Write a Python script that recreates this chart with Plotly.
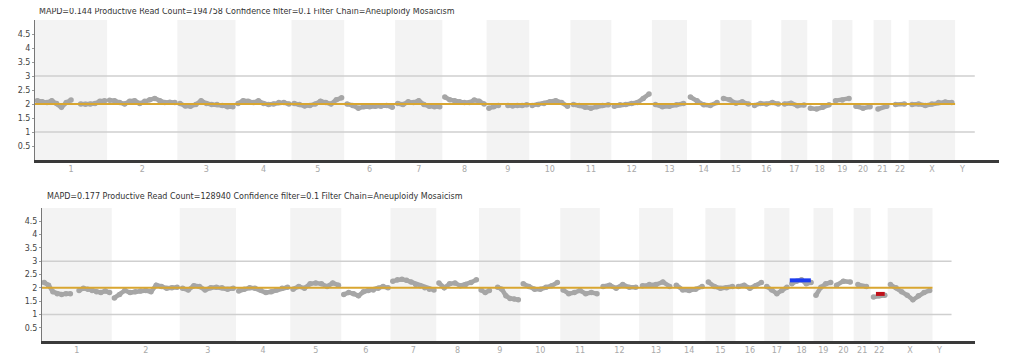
import plotly.graph_objects as go

# ---------------- data ----------------
chrom_names = ["1", "2", "3", "4", "5", "6", "7", "8", "9", "10", "11", "12",
               "13", "14", "15", "16", "17", "18", "19", "20", "21", "22", "X", "Y"]
chrom_lengths = [238, 232, 192, 185, 174, 168, 156, 146, 141, 136, 135, 134,
                 116, 110, 103, 98, 86, 82, 67, 70, 58, 58, 153, 48]

top_title = "MAPD=0.144 Productive Read Count=194758 Confidence filter=0.1 Filter Chain=Aneuploidy Mosaicism"
bottom_title = "MAPD=0.177 Productive Read Count=128940 Confidence filter=0.1 Filter Chain=Aneuploidy Mosaicism"

y_tick_values = [0.5, 1, 1.5, 2, 2.5, 3, 3.5, 4, 4.5]
y_tick_labels = ["0.5", "1", "1.5", "2", "2.5", "3", "3.5", "4", "4.5"]
reference_levels = [1, 3]
normal_level = 2
axis_max = 3183
grid_end = 3103

top_copy_number = [
    [2.12, 2.08, 2.05, 2.12, 2.02, 1.88, 2.05, 2.14, None, 2.0, 1.99, 2.0, 2.02, 2.10, 2.12],
    [2.13, 2.12, 2.05, 2.0, 2.1, 2.12, 2.02, 2.1, 2.15, 2.2, 2.12, 2.05, 2.06, 2.05],
    [2.02, 1.93, 1.92, 1.98, 2.12, 2.02, 1.98, 1.98, 1.95, 1.9, 1.9],
    [2.02, 2.12, 2.1, 2.05, 2.12, 2.02, 1.98, 2.0, 2.05, 2.05, 2.0],
    [2.02, 1.98, 1.93, 1.95, 2.0, 2.1, 2.05, 2.0, 2.15, 2.22],
    [2.0, 1.95, 1.85, 1.9, 1.9, 1.92, 1.92, 1.95, 1.88],
    [2.02, 1.98, 2.08, 2.05, 2.12, 1.98, 1.92, 1.9, 1.9],
    [2.25, 2.15, 2.12, 2.08, 2.05, 2.05, 2.14, 2.1, 2.0],
    [1.85, 1.9, 1.95, None, 1.95, 1.93, 1.95, 1.95, 1.97],
    [1.95, 1.98, 2.02, 2.08, 2.12, 2.05, 1.92],
    [1.98, 1.95, 1.88, 1.85, 1.9, 1.95, 1.97],
    [1.92, 1.97, 1.98, 2.02, 2.05, 2.2, 2.36],
    [1.98, 1.9, 1.92, 1.97, 2.02],
    [2.25, 2.12, 1.97, 1.95, 2.05],
    [2.2, 2.15, 2.03, 2.08, 2.0],
    [1.95, 2.02, 2.0, 2.05, 2.0],
    [2.0, 2.03, 1.94, 1.96],
    [1.85, 1.82, 1.88, 1.97],
    [2.12, 2.14, 2.2],
    [1.92, 1.85, 1.9],
    [1.82, 1.92],
    [1.98, 2.0],
    [1.98, 2.0, 1.95, 2.0, 2.05, 2.07, 2.05],
    [],
]

bottom_copy_number = [
    [2.2, 2.1, 1.85, 1.78, 1.75, 1.78, 1.78, None, 1.9, 1.98, 1.95, 1.9, 1.85, 1.82, 1.88, 1.82],
    [1.62, 1.75, 1.9, 1.82, 1.85, 1.88, 1.9, 1.85, 2.1, 2.05, 1.98, 2.0, 2.02],
    [1.98, 1.92, 2.08, 2.05, 1.92, 2.0, 2.02, 2.0, 1.95, 1.98],
    [1.88, 1.95, 2.0, 1.98, 1.92, 1.82, 1.85, 1.92, 1.98, 2.02],
    [1.95, 2.05, 1.98, 2.15, 2.18, 2.15, 2.05, 2.18, 2.1],
    [1.75, 1.82, 1.78, 1.7, 1.85, 1.9, 1.92, 1.98, 2.05, 2.0],
    [2.25, 2.3, 2.32, 2.28, 2.22, 2.12, 2.08, 2.0, 1.95, 1.92],
    [2.18, 2.0, 2.15, 2.18, 2.08, 2.12, 2.2, 2.3],
    [1.92, 1.82, 1.9, None, 2.02, 1.95, 1.7, 1.6, 1.58, 1.55],
    [2.15, 2.05, 1.95, 1.95, 2.02, 2.08, 2.2],
    [1.92, 1.78, 1.82, 1.9, 1.78, 1.82, 1.78],
    [2.05, 2.1, 1.98, 2.12, 2.02, 2.02],
    [2.08, 2.12, 2.12, 2.22, 2.05],
    [2.1, 1.92, 1.9, 1.95, 2.05],
    [2.22, 2.05, 1.98, 2.0, 2.05],
    [2.05, 2.1, 1.98, 2.08, 2.2],
    [2.05, 1.92, 1.78, 1.9, 2.02],
    [2.15, 2.25, 2.3, 2.15, 2.2],
    [1.72, 2.02, 2.15, 2.2],
    [2.1, 2.25, 2.22],
    [2.12, 2.05],
    [1.65, 1.7, 1.72],
    [2.12, 2.0, 1.85, 1.72, 1.55, 1.7, 1.82, 1.9],
    [],
]

# called segments on bottom sample: (start, end, copy number, colour)
segment_starts = [2551, 2845]
segment_ends = [2623, 2875]
segment_values = [2.28, 1.77]
segment_colors = ["#1c3cf0", "#c0101a"]

# ---------------- geometry ----------------
PAGE_OFF = 8            # default page margin of the html body
W, H = 1024 - PAGE_OFF, 360 - PAGE_OFF


def fx(px):
    return (px - PAGE_OFF) / W


def fy(py):
    return 1 - (py - PAGE_OFF) / H


panels = [
    dict(xd=(35, 999), yd=(20, 160), values=top_copy_number, title=top_title, tx=37, ty=12, xa="x", ya="y"),
    dict(xd=(42, 975), yd=(208, 341), values=bottom_copy_number, title=bottom_title, tx=45, ty=196, xa="x2", ya="y2"),
]

starts = []
acc = 0
for L in chrom_lengths:
    starts.append(acc)
    acc += L
centers = [s + L / 2 for s, L in zip(starts, chrom_lengths)]
x_end_normal = starts[22] + chrom_lengths[22]

fig = go.Figure()
shapes = []
annotations = []

for k, p in enumerate(panels):
    xs, ys = [], []
    for s, L, vals in zip(starts, chrom_lengths, p["values"]):
        n = len(vals)
        for j, v in enumerate(vals):
            xs.append(s + (j + 0.5) / n * L)
            ys.append(v)
        xs.append(None)
        ys.append(None)
    fig.add_trace(go.Scatter(
        x=xs, y=ys, xaxis=p["xa"], yaxis=p["ya"], mode="lines+markers",
        line=dict(color="#a6a6a6", width=4.5), marker=dict(color="#a6a6a6", size=5.5),
        connectgaps=False, hoverinfo="skip"))

    xr = p["xa"]
    yr = p["ya"]
    for i, (s, L) in enumerate(zip(starts, chrom_lengths)):
        if i % 2 == 0 and i < 23:
            shapes.append(dict(type="rect", xref=xr, yref=yr, x0=s, x1=s + L, y0=0, y1=5,
                               fillcolor="#f3f3f3", line=dict(width=0), layer="below"))
    for lv in reference_levels:
        shapes.append(dict(type="line", xref=xr, yref=yr, x0=0, x1=grid_end, y0=lv, y1=lv,
                           line=dict(color="#cfcfcf", width=1.5), layer="below"))
    shapes.append(dict(type="line", xref=xr, yref=yr, x0=0, x1=x_end_normal, y0=normal_level, y1=normal_level,
                       line=dict(color="#d9a630", width=2), layer="above"))

    annotations.append(dict(text=p["title"], xref="paper", yref="paper", x=fx(p["tx"]), y=fy(p["ty"]),
                            xanchor="left", yanchor="middle", showarrow=False,
                            font=dict(family="DejaVu Sans", size=8, color="#333333")))

    suffix = "" if k == 0 else "2"
    fig.layout["xaxis" + suffix] = dict(
        domain=[fx(p["xd"][0]), fx(p["xd"][1])], range=[0, axis_max], anchor=p["ya"],
        showline=True, linecolor="#3a3a3a", linewidth=2.5, showgrid=False, zeroline=False,
        tickvals=centers, ticktext=chrom_names, ticks="", fixedrange=True,
        tickfont=dict(family="DejaVu Sans", size=8, color="#a8a8a8"))
    fig.layout["yaxis" + suffix] = dict(
        domain=[fy(p["yd"][1]), fy(p["yd"][0])], range=[0, 5], anchor=p["xa"],
        showline=True, linecolor="#777777", linewidth=1, showgrid=False, zeroline=False,
        tickvals=y_tick_values, ticktext=y_tick_labels, ticks="outside", ticklen=2,
        tickcolor="#999999", fixedrange=True,
        tickfont=dict(family="DejaVu Sans", size=8, color="#444444"))

for s0, s1, v, c in zip(segment_starts, segment_ends, segment_values, segment_colors):
    fig.add_trace(go.Scatter(x=[s0, s1], y=[v, v], xaxis="x2", yaxis="y2", mode="lines",
                             line=dict(color=c, width=4), hoverinfo="skip"))

fig.update_layout(
    width=W, height=H, margin=dict(l=0, r=0, t=0, b=0),
    paper_bgcolor="white", plot_bgcolor="white", showlegend=False,
    shapes=shapes, annotations=annotations)

fig.write_html("out.html")
